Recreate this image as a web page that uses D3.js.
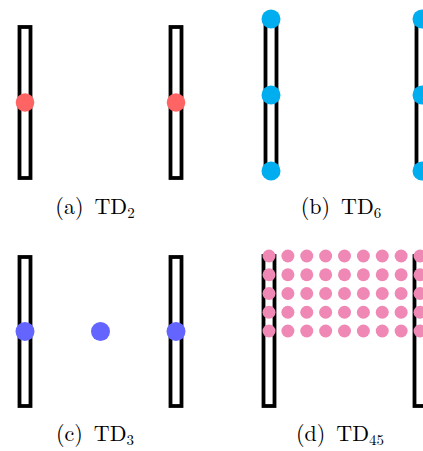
<!DOCTYPE html>
<html>
<head>
<meta charset="utf-8">
<script src="https://cdn.jsdelivr.net/npm/d3@7"></script>
<style>
  html, body { margin: 0; padding: 0; background: #fff; }
  svg { display: block; }
</style>
</head>
<body>
<div id="chart"></div>
<script>
var svgWidth = 423;
var svgHeight = 451;

// data
var panelTags = ["(a)", "(b)", "(c)", "(d)"];
var panelSubs = ["2", "6", "3", "45"];
var dotColors = ["#ff6464", "#00aeef", "#6464ff", "#f088b6"];

// dot positions in units of the bar (x: 0 = left bar, 1 = right bar; y: 0 = top, 1 = bottom)
var dotsA = [[0, 0.5], [1, 0.5]];
var dotsB = [[0, 0], [0, 0.5], [0, 1], [1, 0], [1, 0.5], [1, 1]];
var dotsC = [[0, 0.5], [0.5, 0.5], [1, 0.5]];
var gridXD = [0, 0.125, 0.25, 0.375, 0.5, 0.625, 0.75, 0.875, 1];
var gridYD = [0, 0.125, 0.25, 0.375, 0.5];
var dotsD = d3.cross(gridYD, gridXD).map(function(p) { return [p[1], p[0]]; });
var allDots = [dotsA, dotsB, dotsC, dotsD];
var barXs = [0, 1];

// layout of each sub-figure (pixels)
var layout = [
  {x0: 25,  y0: 27,  w: 151, h: 151, r: 9.3, labelX: 95,  labelY: 214},
  {x0: 271, y0: 19,  w: 151, h: 152, r: 9.5, labelX: 341, labelY: 214},
  {x0: 25,  y0: 257, w: 151, h: 149, r: 9.5, labelX: 95,  labelY: 441},
  {x0: 269, y0: 256, w: 151, h: 150, r: 6.5, labelX: 340, labelY: 441}
];
var barWidth = 11;
var barStroke = 3.8;

var svg = d3.select("#chart")
            .append("svg")
            .attr("width", svgWidth)
            .attr("height", svgHeight);

layout.forEach(function(p, i) {
    var x = d3.scaleLinear().domain([0, 1]).range([p.x0, p.x0 + p.w]);
    var y = d3.scaleLinear().domain([0, 1]).range([p.y0, p.y0 + p.h]);
    var g = svg.append("g").attr("class", "panel");

    g.selectAll("rect.bar")
     .data(barXs)
     .enter()
     .append("rect")
     .attr("class", "bar")
     .attr("x", d => x(d) - barWidth / 2)
     .attr("y", y(0))
     .attr("width", barWidth)
     .attr("height", y(1) - y(0))
     .attr("fill", "#fff")
     .attr("stroke", "#000")
     .attr("stroke-width", barStroke);

    g.selectAll("circle")
     .data(allDots[i])
     .enter()
     .append("circle")
     .attr("cx", d => x(d[0]))
     .attr("cy", d => y(d[1]))
     .attr("r", p.r)
     .attr("fill", dotColors[i]);

    var label = g.append("text")
                 .attr("x", p.labelX)
                 .attr("y", p.labelY)
                 .attr("text-anchor", "middle")
                 .attr("font-family", "'Latin Modern Roman', 'CMU Serif', 'DejaVu Serif', serif")
                 .attr("font-size", "22px")
                 .attr("fill", "#000");
    label.append("tspan").text(panelTags[i] + "\u2002TD");
    label.append("tspan")
         .attr("dy", 4)
         .attr("font-size", "15px")
         .text(panelSubs[i]);
});
</script>
</body>
</html>
